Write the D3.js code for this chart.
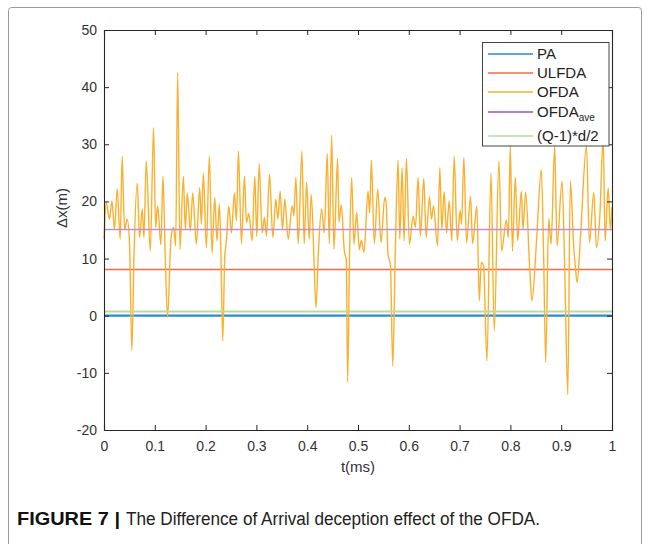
<!DOCTYPE html>
<html>
<head>
<meta charset="utf-8">
<script src="https://cdn.jsdelivr.net/npm/d3@7"></script>
<style>
  body { margin: 0; background: #fff; }
  svg { display: block; }
</style>
</head>
<body>
<script>
// time axis (ms) and OFDA curve
const tValues = [0, 0.0043, 0.0108, 0.0155, 0.0207, 0.026, 0.0319, 0.0358, 0.0404, 0.0457, 0.0503, 0.0549, 0.0588,
  0.0654, 0.07, 0.0753, 0.0786, 0.0832, 0.0911, 0.0976, 0.1016, 0.1055, 0.1121, 0.116, 0.1206, 0.1252, 0.1318,
  0.1371, 0.141, 0.145, 0.1496, 0.1562, 0.1601, 0.164, 0.17, 0.1746, 0.1818, 0.1884, 0.1916, 0.1956,
  0.2015, 0.2074, 0.2127, 0.2179, 0.2225, 0.2272, 0.2304, 0.2337, 0.2377, 0.241, 0.2456, 0.2508, 0.2567, 0.2607,
  0.2646, 0.2706, 0.2765, 0.2804, 0.285, 0.2916, 0.2968, 0.3008, 0.3054, 0.3113, 0.3159, 0.3199, 0.3258, 0.3324,
  0.3383, 0.3422, 0.3468, 0.3514, 0.356, 0.3626, 0.3705, 0.3738, 0.3777, 0.3823, 0.3895, 0.3941, 0.3988,
  0.404, 0.4079, 0.4139, 0.4172, 0.4224, 0.4283, 0.4336, 0.4395, 0.4435, 0.4481, 0.4527, 0.4599, 0.4625, 0.4671,
  0.473, 0.477, 0.4796, 0.4836, 0.4875, 0.4921, 0.4974, 0.5026, 0.5066, 0.5118, 0.5197, 0.523, 0.5263, 0.5322,
  0.5388, 0.5454, 0.5526, 0.5552, 0.5592, 0.5638, 0.5684, 0.5736, 0.5789, 0.5822, 0.5868, 0.5907, 0.5953, 0.6012,
  0.6085, 0.6131, 0.6183, 0.6229, 0.6295, 0.6341, 0.6407, 0.6446, 0.6486, 0.6565, 0.6611, 0.665, 0.6696, 0.6742,
  0.6795, 0.6847, 0.6893, 0.6953, 0.7012, 0.7038, 0.7084, 0.7137, 0.7216, 0.7255, 0.7341, 0.7387, 0.7426, 0.7472,
  0.7538, 0.7617, 0.7682, 0.7774, 0.7827, 0.7919, 0.7959, 0.7998, 0.804,
  0.8097, 0.8143, 0.8215, 0.8248, 0.83, 0.8379, 0.8425, 0.8511, 0.8609, 0.8655, 0.8695, 0.8754, 0.88, 0.8872,
  0.8918, 0.9017, 0.907, 0.9129, 0.9181, 0.9247, 0.928, 0.9313, 0.9379, 0.9497, 0.9556, 0.9642, 0.9694, 0.976,
  0.9826, 0.9865, 0.9924, 0.997, 1.0]
const ofdaValues = [13.4, 19.8, 16.9, 20.1, 15.1, 22.2, 13.4, 27.9, 15.1, 16.9, 12.5, -6.1, 9.6,
  23.2, 13.7, 18.7, 13.7, 27.1, 11.3, 32.9, 15.4, 19.2, 12.4, 24.4, 10, -0.3, 13.5,
  15.5, 12.2, 42.5, 11.6, 24.4, 15.1, 21.5, 14.8, 21.5, 12.5, 22.4, 16, 25.0,
  11.9, 27.9, 10.9, 20.7, 13.1, 19.6, 10, -4.4, 10.2, 13.1, 19.2, 14.5, 21.5, 16.6,
  28.8, 12.6, 24.4, 16.3, 17.9, 13.1, 24.4, 13.9, 26.6, 14.5, 17.2, 13.9, 24.7, 13.7,
  20.4, 16.9, 21.8, 15.1, 20.4, 13.4, 19.2, 17.5, 24.2, 12.6, 28.8, 12.6, 23.4,
  13.4, 21.2, 8.5, 1.4, 11.9, 18.7, 14.5, 28.4, 12.6, 31.6, 11.6, 27.5, 16.4, 19.4,
  11.4, 9.6, -11.6, 12, 24.2, 12.5, 18.1, 11.6, 13.2, 11.1, 21.8, 18, 27.2, 12.6,
  22.2, 12.8, 20.7, 20, 10.7, 9.0, -8.8, 11.9, 27.2, 13.4, 25.9, 13.1, 27.5, 12.5,
  17.4, 15.5, 24.2, 13.9, 24.0, 13.7, 20.8, 16.9, 19.2, 12.2, 25.9, 15.1, 21.7, 14.5,
  20.1, 13.1, 27.9, 13.1, 18.4, 16, 27.7, 12.8, 20.9, 12.6, 19.2, 2.6, 9.3, 8.8,
  -7.9, 25.0, -2.7, 27.1, 11.3, 16.7, 13.7, 29.8, 11.3,
  24.2, 13.1, 21.8, 15.1, 21.6, 8.5, 2.6, 12.6, 25.6, 10, -8.2, 17, 12.5, 29.7,
  12.2, 23.6, 8, -13.8, 23.6, 11.9, 8.5, 5.8, 13.7, 29.7, 12.8, 21.6, 11.9, 17.4,
  31.2, 13.1, 22.4, 15, 19]

// constant reference levels
const paValue = 0
const ulfdaValue = 8.1
const ofdaAveValue = 15.1
const qdValue = 0.75

const xTicks = [0, 0.1, 0.2, 0.3, 0.4, 0.5, 0.6, 0.7, 0.8, 0.9, 1]
const yTicks = [-20, -10, 0, 10, 20, 30, 40, 50]

const legendNames = ["PA", "ULFDA", "OFDA", "OFDA", "(Q-1)*d/2"]
const colors = ["#2a8bd2", "#f36c47", "#fbb02d", "#9b59b0", "#b8dc9c"]

const width = 651, height = 544
const mLeft = 104, mRight = 612, mTop = 30, mBottom = 430

let svg = d3.select("body").append("svg")
  .attr("width", width).attr("height", height)
  .style("font-family", "'Liberation Sans', Arial, sans-serif")

// outer figure frame
svg.append("rect")
  .attr("x", 8.5).attr("y", 7.5)
  .attr("width", 633).attr("height", 560)
  .attr("rx", 3)
  .attr("fill", "none").attr("stroke", "#9a9a9a").attr("stroke-width", 1)

let x = d3.scaleLinear().domain([0, 1]).range([mLeft, mRight])
let y = d3.scaleLinear().domain([-20, 50]).range([mBottom, mTop])

let plot = svg.append("g")

// constant lines
plot.append("line")
  .attr("x1", x(0)).attr("x2", x(1))
  .attr("y1", y(paValue)).attr("y2", y(paValue))
  .attr("stroke", colors[0]).attr("stroke-width", 2.2)
plot.append("line")
  .attr("x1", x(0)).attr("x2", x(1))
  .attr("y1", y(ulfdaValue)).attr("y2", y(ulfdaValue))
  .attr("stroke", colors[1]).attr("stroke-width", 1.5)

// OFDA curve
let ofdaData = tValues.map((t, i) => ({ t: t, v: ofdaValues[i] }))
plot.append("path")
  .datum(ofdaData)
  .attr("fill", "none")
  .attr("stroke", colors[2])
  .attr("stroke-width", 1.4)
  .attr("stroke-linejoin", "round")
  .attr("d", d3.line().x(d => x(d.t)).y(d => y(d.v)).curve(d3.curveMonotoneX))

plot.append("line")
  .attr("x1", x(0)).attr("x2", x(1))
  .attr("y1", y(ofdaAveValue)).attr("y2", y(ofdaAveValue))
  .attr("stroke", "#c08fcc").attr("stroke-width", 1.5)
plot.append("line")
  .attr("x1", x(0)).attr("x2", x(1))
  .attr("y1", y(qdValue)).attr("y2", y(qdValue))
  .attr("stroke", colors[4]).attr("stroke-width", 2)

// axes, matlab style ticks pointing inward
let axisColor = "#262626"
let gx = svg.append("g").attr("transform", `translate(0,${mBottom})`)
  .call(d3.axisBottom(x).tickValues(xTicks).tickSize(-5).tickPadding(11).tickFormat(d => String(d)))
let gxTop = svg.append("g").attr("transform", `translate(0,${mTop})`)
  .call(d3.axisTop(x).tickValues(xTicks).tickSize(-5).tickFormat(""))
let gy = svg.append("g").attr("transform", `translate(${mLeft},0)`)
  .call(d3.axisLeft(y).tickValues(yTicks).tickSize(-5).tickPadding(7).tickFormat(d => String(d)))
let gyRight = svg.append("g").attr("transform", `translate(${mRight},0)`)
  .call(d3.axisRight(y).tickValues(yTicks).tickSize(-5).tickFormat(""))

;[gx, gxTop, gy, gyRight].forEach(g => {
  g.select(".domain").attr("stroke", axisColor).attr("stroke-width", 1.1)
  g.selectAll(".tick line").attr("stroke", axisColor)
  g.selectAll("text").attr("fill", "#333").style("font-size", "14px")
    .style("font-family", "'Liberation Sans', Arial, sans-serif")
})

svg.append("text")
  .attr("x", (mLeft + mRight) / 2).attr("y", 472)
  .attr("text-anchor", "middle")
  .attr("fill", "#333").style("font-size", "15px")
  .text("t(ms)")

svg.append("text")
  .attr("transform", "translate(67,208) rotate(-90)")
  .attr("text-anchor", "middle")
  .attr("fill", "#333").style("font-size", "15px")
  .text("Δx(m)")

// legend
let legend = svg.append("g")
legend.append("rect")
  .attr("x", 482.5).attr("y", 42.5).attr("width", 126.5).attr("height", 103.5)
  .attr("fill", "#fff").attr("stroke", "#444").attr("stroke-width", 1)

let rowY = [54, 73, 92, 112, 136]
legendNames.forEach((name, i) => {
  legend.append("line")
    .attr("x1", 488).attr("x2", 533)
    .attr("y1", rowY[i]).attr("y2", rowY[i])
    .attr("stroke", colors[i]).attr("stroke-width", 1.5)
  let txt = legend.append("text")
    .attr("x", 537).attr("y", rowY[i] + 5)
    .attr("fill", "#222").style("font-size", "15px")
    .text(name)
  if (i == 3) {
    txt.append("tspan").attr("dy", 4).style("font-size", "10px").text("ave")
  }
})

// caption, squeezed to look like the condensed journal font
svg.append("text")
  .attr("x", 17).attr("y", 525)
  .attr("fill", "#111")
  .style("font-size", "18px").style("font-weight", "bold")
  .attr("textLength", 103).attr("lengthAdjust", "spacingAndGlyphs")
  .text("FIGURE 7 |")
svg.append("text")
  .attr("x", 126).attr("y", 525)
  .attr("fill", "#222")
  .style("font-size", "18px")
  .attr("textLength", 414).attr("lengthAdjust", "spacingAndGlyphs")
  .text("The Difference of Arrival deception effect of the OFDA.")
</script>
</body>
</html>
